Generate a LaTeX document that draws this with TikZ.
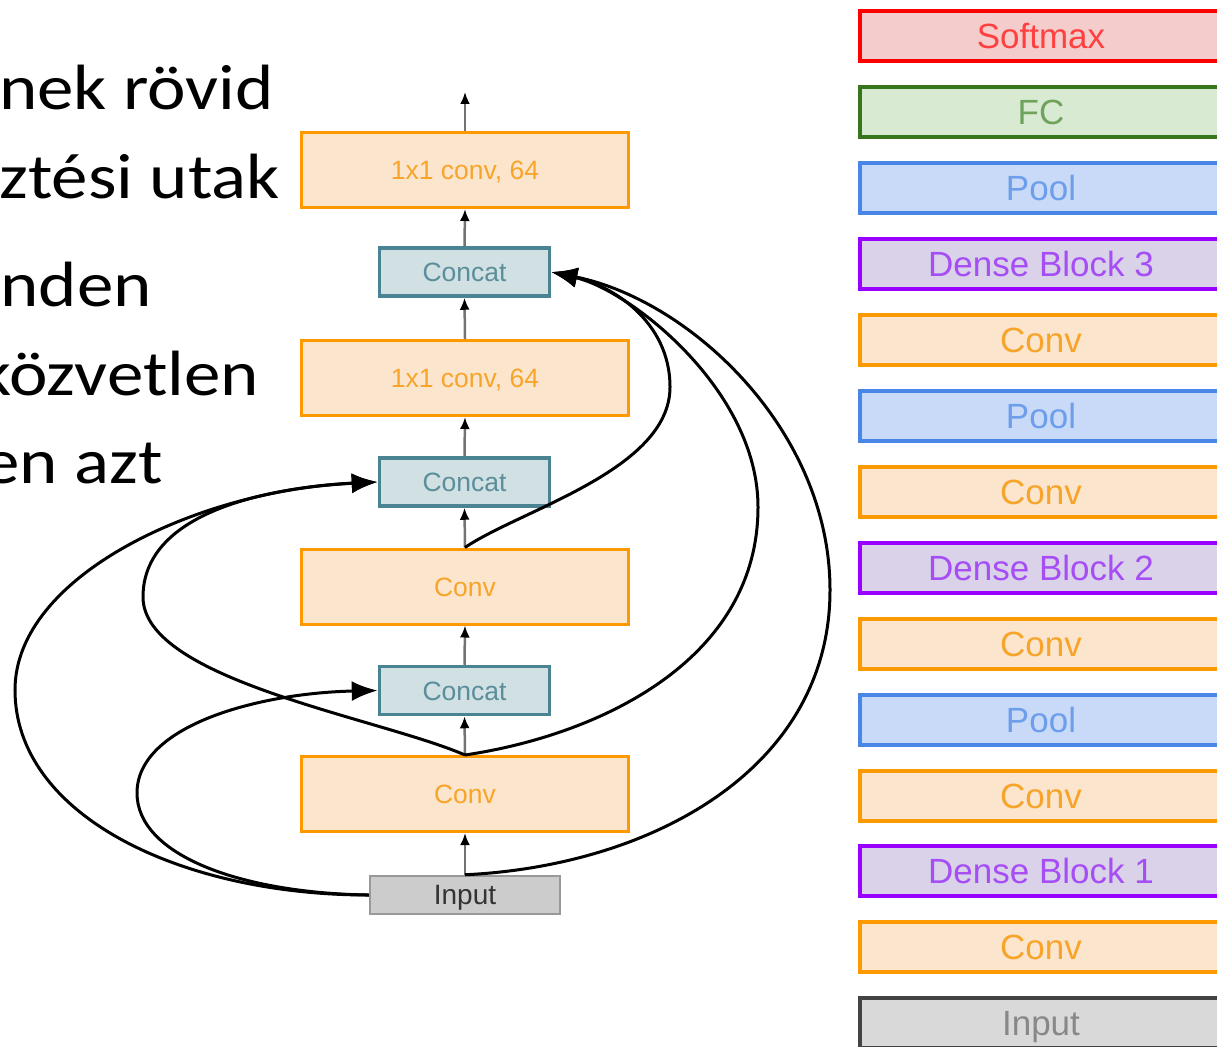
\documentclass[tikz,border=0pt]{standalone}
\usepackage{fontspec}
\setmainfont{Liberation Sans}
\newfontfamily\bodyfont{Carlito}
\usetikzlibrary{arrows.meta}

% layer colours
\definecolor{convfill}{HTML}{FCE5CD}
\definecolor{convdraw}{HTML}{FF9900}
\definecolor{convtext}{HTML}{F7A52A}
\definecolor{catfill}{HTML}{D0E0E3}
\definecolor{catdraw}{HTML}{4A8391}
\definecolor{cattext}{HTML}{5B8E9B}
\definecolor{inpfill}{HTML}{CCCCCC}
\definecolor{inpdraw}{HTML}{999999}
\definecolor{inptext}{HTML}{333333}
\definecolor{smfill}{HTML}{F4CCCC}
\definecolor{smdraw}{HTML}{FF0000}
\definecolor{smtext}{HTML}{FF4040}
\definecolor{fcfill}{HTML}{D9EAD3}
\definecolor{fcdraw}{HTML}{38761D}
\definecolor{fctext}{HTML}{6FA35C}
\definecolor{poolfill}{HTML}{C9DAF8}
\definecolor{pooldraw}{HTML}{4A86E8}
\definecolor{pooltext}{HTML}{6D9EEB}
\definecolor{dbfill}{HTML}{D9D2E9}
\definecolor{dbdraw}{HTML}{9900FF}
\definecolor{dbtext}{HTML}{A64DF5}
\definecolor{rinfill}{HTML}{D9D9D9}
\definecolor{rindraw}{HTML}{434343}
\definecolor{rintext}{HTML}{888888}

\begin{document}
\begin{tikzpicture}[x=1pt,y=-1pt,
  bullettext/.style={font=\bodyfont\fontsize{64}{70}\selectfont, inner sep=0pt,
    anchor=base east, xscale=1.14},
  layer/.style={rectangle, inner sep=0pt, line width=3pt,
    font=\fontsize{26.5}{30}\selectfont, text height=19pt, text depth=0pt},
  convbox/.style={layer, draw=convdraw, fill=convfill, text=convtext,
    minimum width=327pt, minimum height=75pt},
  catbox/.style={layer, draw=catdraw, fill=catfill, text=cattext, line width=3.5pt,
    minimum width=170pt, minimum height=48pt},
  inbox/.style={layer, draw=inpdraw, fill=inpfill, text=inptext, line width=2.5pt,
    minimum width=190pt, minimum height=38pt, font=\fontsize{28}{30}\selectfont},
  flow/.style={draw=black!55, line width=2.5pt, -{Latex[length=12pt,width=10pt,color=black]}},
  skip/.style={draw=black, line width=3pt, -{Latex[length=26pt,width=20pt]}},
  rbox/.style={rectangle, inner sep=0pt, line width=4pt, minimum width=362pt,
    minimum height=50pt, font=\fontsize{35}{40}\selectfont, text height=25pt, text depth=0pt},
  rsoft/.style={rbox, draw=smdraw, fill=smfill, text=smtext},
  rfc/.style={rbox, draw=fcdraw, fill=fcfill, text=fctext},
  rpool/.style={rbox, draw=pooldraw, fill=poolfill, text=pooltext},
  rdense/.style={rbox, draw=dbdraw, fill=dbfill, text=dbtext},
  rconv/.style={rbox, draw=convdraw, fill=convfill, text=convtext},
  rinput/.style={rbox, draw=rindraw, fill=rinfill, text=rintext}]
\useasboundingbox (0,0) rectangle (1217,1046);
\clip (0,0) rectangle (1217,1046);

% bullet text on the left
\node[bullettext] (t1) at (274,110) {nek rövid};
\node[bullettext] (t2) at (280,198) {ztési utak};
\node[bullettext] (t3) at (152,306) {nden};
\node[bullettext] (t4) at (259,395) {közvetlen};
\node[bullettext] (t5) at (163,483) {en azt};

% dense block
\node[convbox] (top) at (465,170) {1x1 conv, 64};
\node[catbox] (cat3) at (464.5,272) {Concat};
\node[convbox] (mid) at (465,378) {1x1 conv, 64};
\node[catbox] (cat2) at (464.5,482) {Concat};
\node[convbox] (conv2) at (465,586.5) {Conv};
\node[catbox] (cat1) at (464.5,690.5) {Concat};
\node[convbox] (conv1) at (465,794) {Conv};
\node[inbox] (input) at (465,895) {Input};
\coordinate (out) at (465,92);

% main path
\draw[flow] (input.north) -- (conv1.south);
\draw[flow] (conv1.north) -- (cat1.south);
\draw[flow] (cat1.north) -- (conv2.south);
\draw[flow] (conv2.north) -- (cat2.south);
\draw[flow] (cat2.north) -- (mid.south);
\draw[flow] (mid.north) -- (cat3.south);
\draw[flow] (cat3.north) -- (top.south);
\draw[flow] (top.north) -- (out);

% dense connections
\draw[skip] (input.west) .. controls (180,895) and (15,815) .. (15,690)
  .. controls (15,575) and (200,490) .. (cat2.west);
\draw[skip] (input.west) .. controls (240,893) and (137,855) .. (137,793)
  .. controls (137,725) and (260,693) .. (cat1.west);
\draw[skip] (conv1.north) .. controls (380,718) and (143,680) .. (143,597)
  .. controls (143,515) and (260,488) .. (cat2.west);
\draw[skip] (conv1.north) .. controls (600,735) and (758,660) .. (758,507)
  .. controls (758,390) and (630,290) .. (cat3.east);
\draw[skip] (input.north) .. controls (650,866) and (830,770) .. (830,590)
  .. controls (830,430) and (690,300) .. (cat3.east);
\draw[skip] (conv2.north) .. controls (520,510) and (670,470) .. (670,387)
  .. controls (670,320) and (610,285) .. (cat3.east);

% full network column
\node[rsoft]  (r1)  at (1041,36.5)  {Softmax};
\node[rfc]    (r2)  at (1041,112.4) {FC};
\node[rpool]  (r3)  at (1041,188.3) {Pool};
\node[rdense] (r4)  at (1041,264.2) {Dense Block 3};
\node[rconv]  (r5)  at (1041,340.1) {Conv};
\node[rpool]  (r6)  at (1041,416.0) {Pool};
\node[rconv]  (r7)  at (1041,491.9) {Conv};
\node[rdense] (r8)  at (1041,567.8) {Dense Block 2};
\node[rconv]  (r9)  at (1041,643.7) {Conv};
\node[rpool]  (r10) at (1041,719.6) {Pool};
\node[rconv]  (r11) at (1041,795.5) {Conv};
\node[rdense] (r12) at (1041,871.4) {Dense Block 1};
\node[rconv]  (r13) at (1041,947.3) {Conv};
\node[rinput] (r14) at (1041,1023.2) {Input};
\end{tikzpicture}
\end{document}
